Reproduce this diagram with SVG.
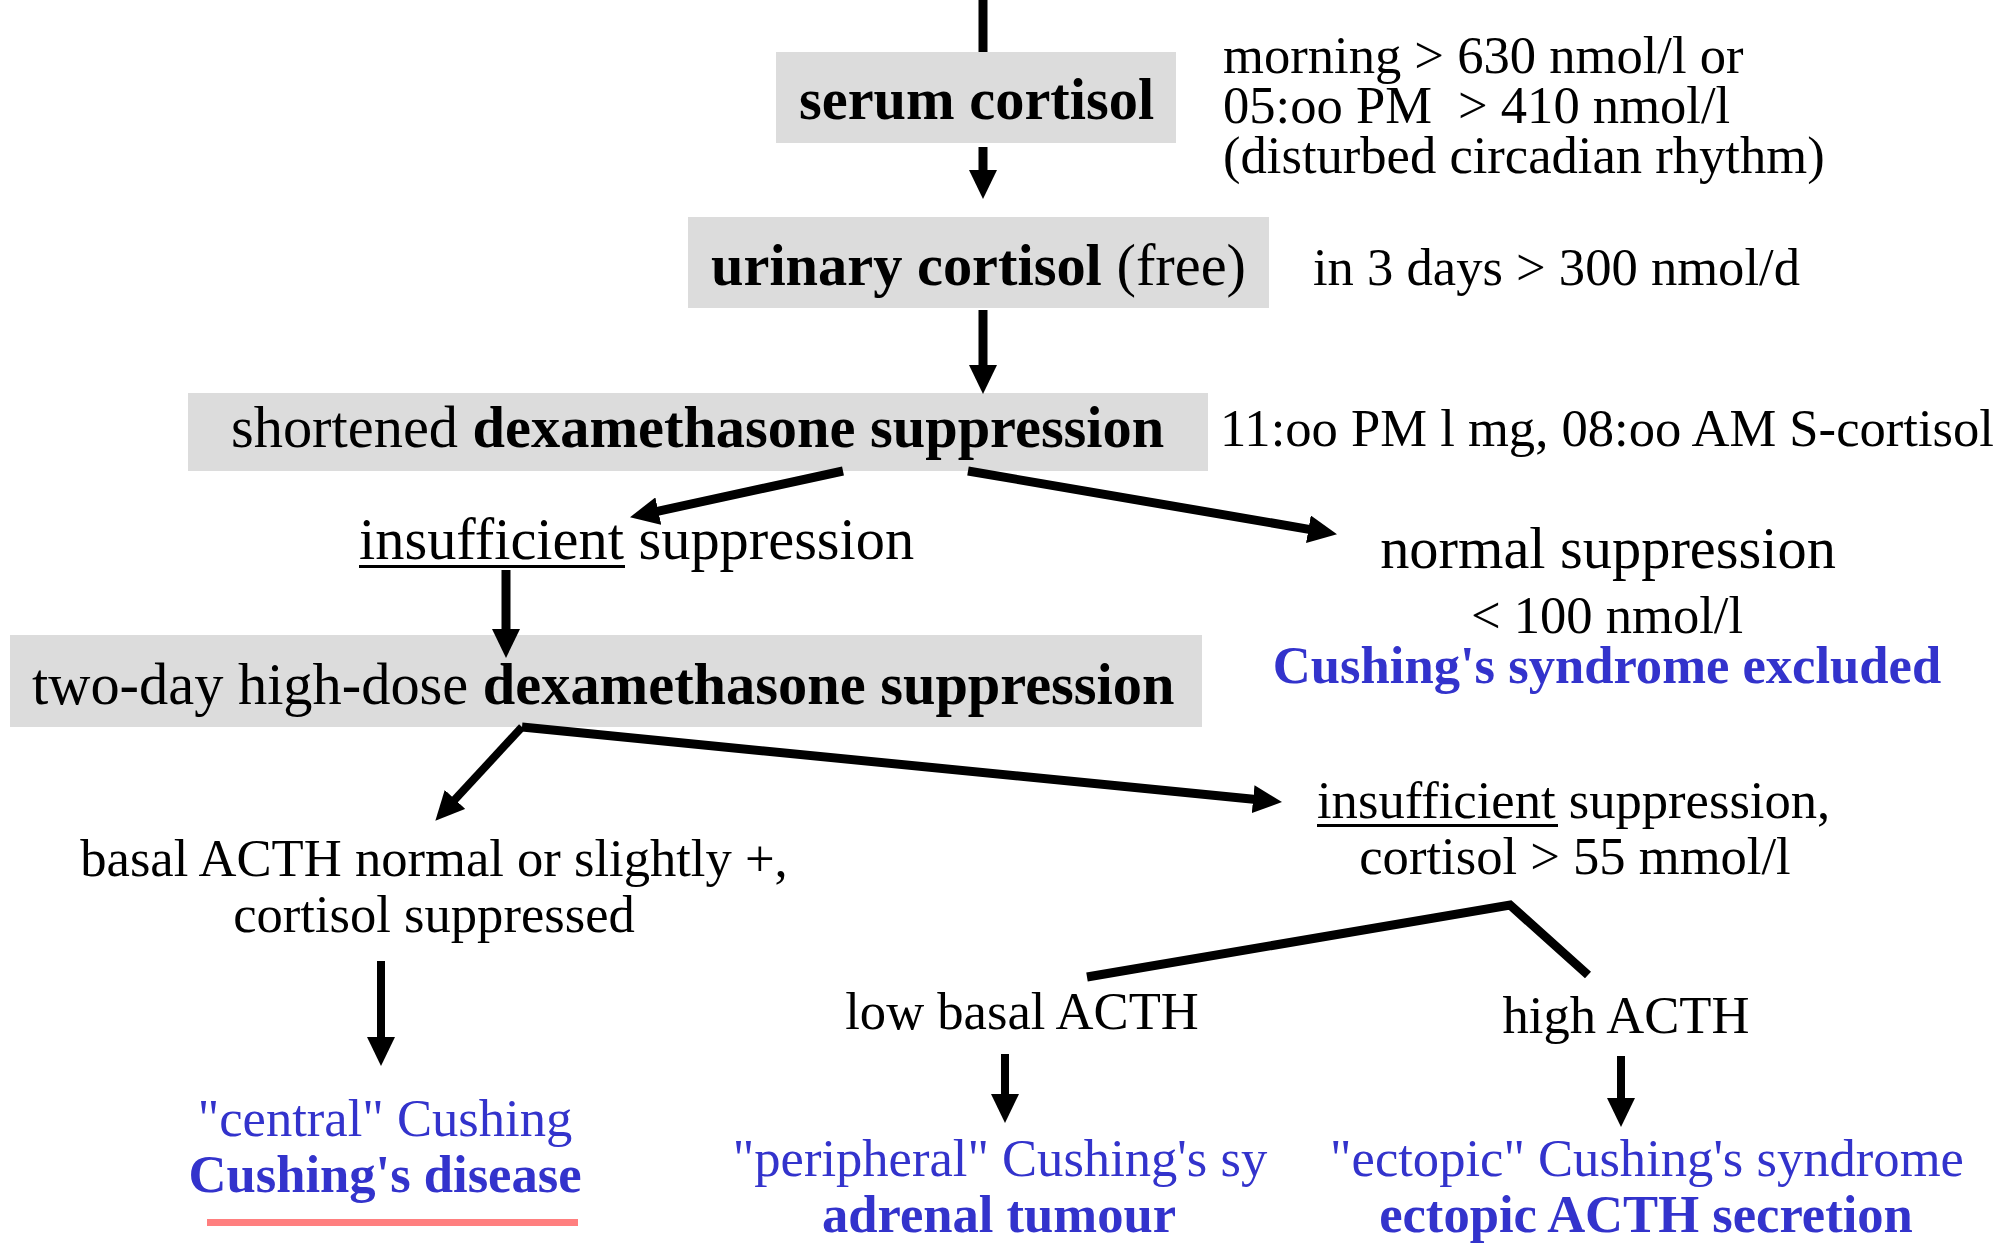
<svg xmlns="http://www.w3.org/2000/svg" width="2013" height="1245" viewBox="0 0 2013 1245">
<style>
text{font-family:"Liberation Serif","Times New Roman",serif;fill:#000}
.L{font-size:58.4px}
.S{font-size:52.6px}
.b{font-weight:bold}
.blue{fill:#3333cc}
.m{text-anchor:middle}
.box{fill:#dcdcdc}
.c{stroke:#000;stroke-width:9;fill:none}
.t{stroke-width:8}
.ul{fill:#000}
</style>
<defs>
<marker id="ah" markerUnits="userSpaceOnUse" markerWidth="29" markerHeight="28" refX="8" refY="14" orient="auto">
<path d="M0,0 L29,14 L0,28 z" fill="#000"/>
</marker>
</defs>
<rect width="2013" height="1245" fill="#fff"/>

<g id="serum-cortisol">
<rect class="box" x="776" y="52" width="400" height="91"/>
<text class="L b" x="799" y="119">serum cortisol</text>
</g>
<g id="serum-criteria">
<text class="S" x="1223" y="73">morning &gt; 630 nmol/l or</text>
<text class="S" x="1223" y="123">05:oo PM<tspan x="1458">&gt; 410 nmol/l</tspan></text>
<text class="S" x="1223" y="173">(disturbed circadian rhythm)</text>
</g>

<g id="urinary-cortisol">
<rect class="box" x="688" y="217" width="581" height="91"/>
<text class="L" x="711" y="285"><tspan class="b">urinary cortisol</tspan> (free)</text>
</g>
<g id="urinary-criteria">
<text class="S" x="1313" y="285">in 3 days &gt; 300 nmol/d</text>
</g>

<g id="shortened-dex">
<rect class="box" x="188" y="393" width="1020" height="78"/>
<text class="L" x="231" y="447">shortened <tspan class="b">dexamethasone suppression</tspan></text>
</g>
<g id="shortened-criteria">
<text class="S" x="1220" y="446">11:oo PM l mg, 08:oo AM S-cortisol</text>
</g>

<g id="insufficient-1">
<text class="L" x="359" y="559">insufficient suppression</text>
<rect class="ul" x="359" y="565" width="266" height="3"/>
</g>

<g id="normal-suppression">
<text class="L m" x="1608" y="568">normal suppression</text>
<text class="S m" x="1607" y="633">&lt; 100 nmol/l</text>
<text class="S m b blue" x="1607" y="683">Cushing's syndrome excluded</text>
</g>

<g id="two-day-dex">
<rect class="box" x="10" y="635" width="1192" height="92"/>
<text class="L" x="32" y="704">two-day high-dose <tspan class="b">dexamethasone suppression</tspan></text>
</g>

<g id="basal-acth">
<text class="S m" x="434" y="876">basal ACTH normal or slightly +,</text>
<text class="S m" x="434" y="932">cortisol suppressed</text>
</g>

<g id="insufficient-2">
<text class="S" x="1317" y="818">insufficient suppression,</text>
<rect class="ul" x="1317" y="824" width="241" height="3"/>
<text class="S m" x="1575" y="874">cortisol &gt; 55 mmol/l</text>
</g>

<g id="low-acth">
<text class="S m" x="1022" y="1029">low basal ACTH</text>
</g>
<g id="high-acth">
<text class="S m" x="1626" y="1033">high ACTH</text>
</g>

<g id="central-cushing">
<text class="S m blue" x="385" y="1136">"central" Cushing</text>
<text class="S m b blue" x="385" y="1192">Cushing's disease</text>
<rect x="207" y="1219" width="371" height="7" fill="#ff7f7f"/>
</g>

<g id="peripheral-cushing">
<text class="S m blue" x="1000" y="1176">"peripheral" Cushing's sy</text>
<text class="S m b blue" x="999" y="1232">adrenal tumour</text>
</g>

<g id="ectopic-cushing">
<text class="S m blue" x="1647" y="1176">"ectopic" Cushing's syndrome</text>
<text class="S m b blue" x="1646" y="1232">ectopic ACTH secretion</text>
</g>

<g id="connectors">
<line class="c" x1="983" y1="0" x2="983" y2="52"/>
<line class="c" x1="983" y1="147" x2="983" y2="178" marker-end="url(#ah)"/>
<line class="c" x1="983" y1="310" x2="983" y2="373" marker-end="url(#ah)"/>
<line class="c" x1="843" y1="471" x2="650.5" y2="512.8" marker-end="url(#ah)"/>
<line class="c" x1="968" y1="471" x2="1316.3" y2="530.6" marker-end="url(#ah)"/>
<line class="c" x1="506" y1="570" x2="506" y2="637" marker-end="url(#ah)"/>
<line class="c t" x1="522" y1="727" x2="449.6" y2="805.3" marker-end="url(#ah)"/>
<line class="c" x1="522" y1="727" x2="1261.1" y2="800" marker-end="url(#ah)"/>
<line class="c t" x1="381" y1="961" x2="381" y2="1045" marker-end="url(#ah)"/>
<polyline class="c" points="1087,977 1510,905 1588,975"/>
<line class="c t" x1="1005" y1="1054" x2="1005" y2="1102" marker-end="url(#ah)"/>
<line class="c t" x1="1621" y1="1056" x2="1621" y2="1106" marker-end="url(#ah)"/>
</g>
</svg>
